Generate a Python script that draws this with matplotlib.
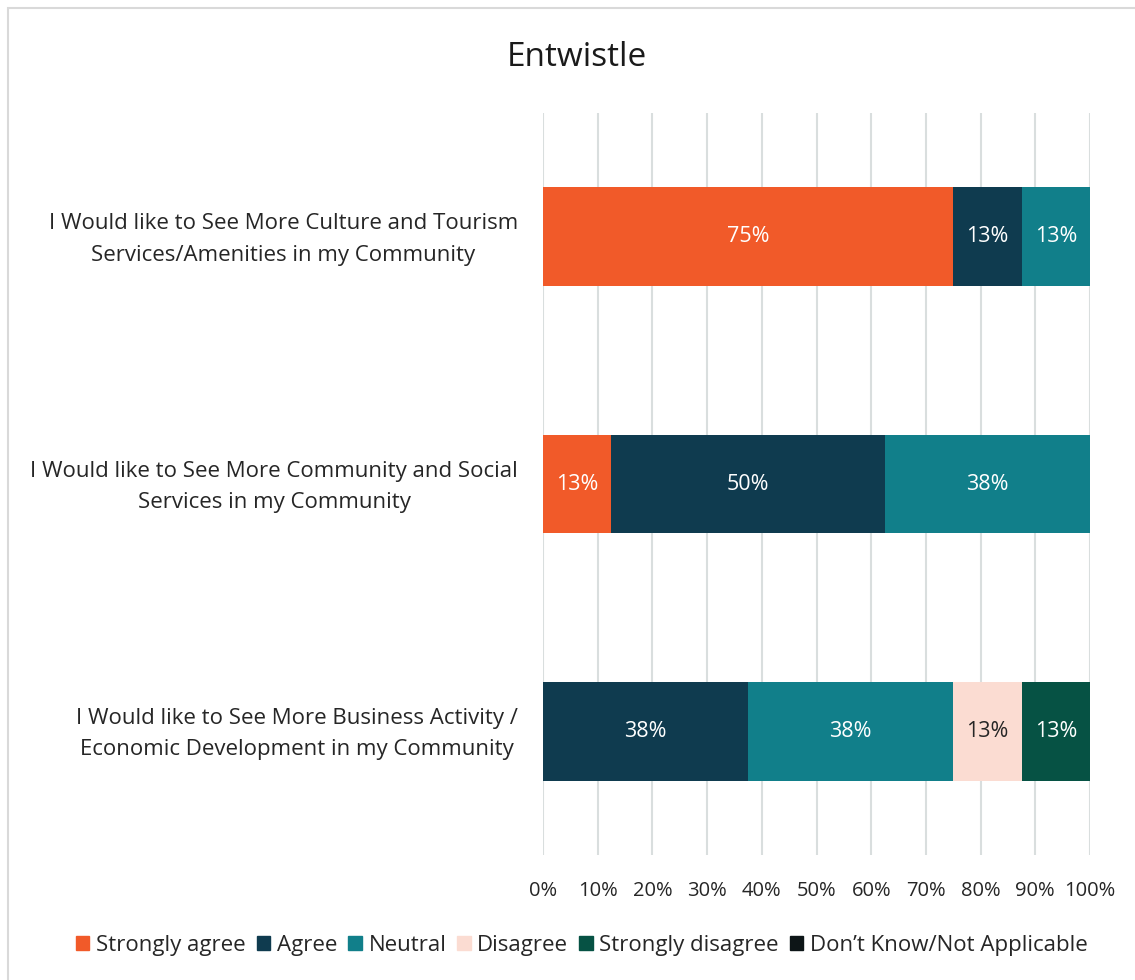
import matplotlib.pyplot as plt
from matplotlib.patches import Rectangle
from matplotlib.transforms import ScaledTranslation

plt.rcParams['font.family'] = ['Open Sans', 'DejaVu Sans']

# Dados
perguntas = [
    "I Would like to See More Culture and Tourism\nServices/Amenities in my Community",
    "I Would like to See More Community and Social\nServices in my Community",
    "I Would like to See More Business Activity /\nEconomic Development in my Community",
]
categorias = ["Strongly agree", "Agree", "Neutral", "Disagree",
              "Strongly disagree", "Don\u2019t Know/Not Applicable"]
strongly_agree = [75.0, 12.5, 0.0]
agree = [12.5, 50.0, 37.5]
neutral = [12.5, 37.5, 37.5]
disagree = [0.0, 0.0, 12.5]
strongly_disagree = [0.0, 0.0, 12.5]
nao_sabe = [0.0, 0.0, 0.0]
series = [strongly_agree, agree, neutral, disagree, strongly_disagree, nao_sabe]

cores = ['#F15A29', '#0F3B4F', '#117F8A', '#FBDCD2', '#065244', '#0D1517']
cor_texto = ['white', 'white', 'white', '#262626', 'white', 'white']

fig = plt.figure(figsize=(11.35, 9.8), dpi=100)
ax = fig.add_axes([543 / 1135, 1 - 855 / 980, 547 / 1135, (855 - 113) / 980])

# Borda do gráfico
fig.patches.append(Rectangle((8 / 1135, -0.1), 1.2, 1 - 8 / 980 + 0.1,
                             transform=fig.transFigure, fill=False,
                             edgecolor='#D9D9D9', linewidth=1.5))

y = range(len(perguntas))
esquerda = [0.0] * len(perguntas)
for serie, cor, ct in zip(series, cores, cor_texto):
    bars = ax.barh(y, serie, left=esquerda, height=0.4, color=cor, zorder=3)
    for bar, v in zip(bars, serie):
        if v > 0:
            ax.text(bar.get_x() + bar.get_width() / 2,
                    bar.get_y() + bar.get_height() / 2,
                    f"{int(v + 0.5)}%", ha='center', va='center',
                    color=ct, fontsize=15.5, zorder=4)
    esquerda = [a + b for a, b in zip(esquerda, serie)]

ax.set_xlim(0, 100)
ax.set_ylim(2.5, -0.5)
ax.set_xticks(range(0, 101, 10))
ax.set_xticklabels([f"{t}%" for t in range(0, 101, 10)])
ax.set_yticks(list(y))
ax.set_yticklabels(perguntas, multialignment='center', linespacing=1.65, fontsize=16)
ax.tick_params(axis='both', length=0, colors='#262626')
ax.tick_params(axis='x', pad=19, labelsize=14.5)
ax.tick_params(axis='y', pad=18)
ax.grid(axis='x', color='#D9DEDE', linewidth=1.5, zorder=0)
for s in ax.spines.values():
    s.set_visible(False)

# sobe um pouco os rótulos das perguntas
desloc = ScaledTranslation(0, 0.05, fig.dpi_scale_trans)
for lbl in ax.get_yticklabels():
    lbl.set_transform(lbl.get_transform() + desloc)

fig.text(577 / 1135, 1 - 58 / 980, "Entwistle", ha='center', va='center',
         fontsize=24, color='#1a1a1a')

# Legenda
handles = [Rectangle((0, 0), 1, 1, color=c) for c in cores]
fig.legend(handles, categorias, loc='center', bbox_to_anchor=(582 / 1135, 1 - 945 / 980),
           ncol=6, frameon=False, fontsize=16, handlelength=0.6, handleheight=0.6,
           handletextpad=0.3, columnspacing=0.5, labelcolor='#262626')

plt.savefig('out.png', dpi=100)
